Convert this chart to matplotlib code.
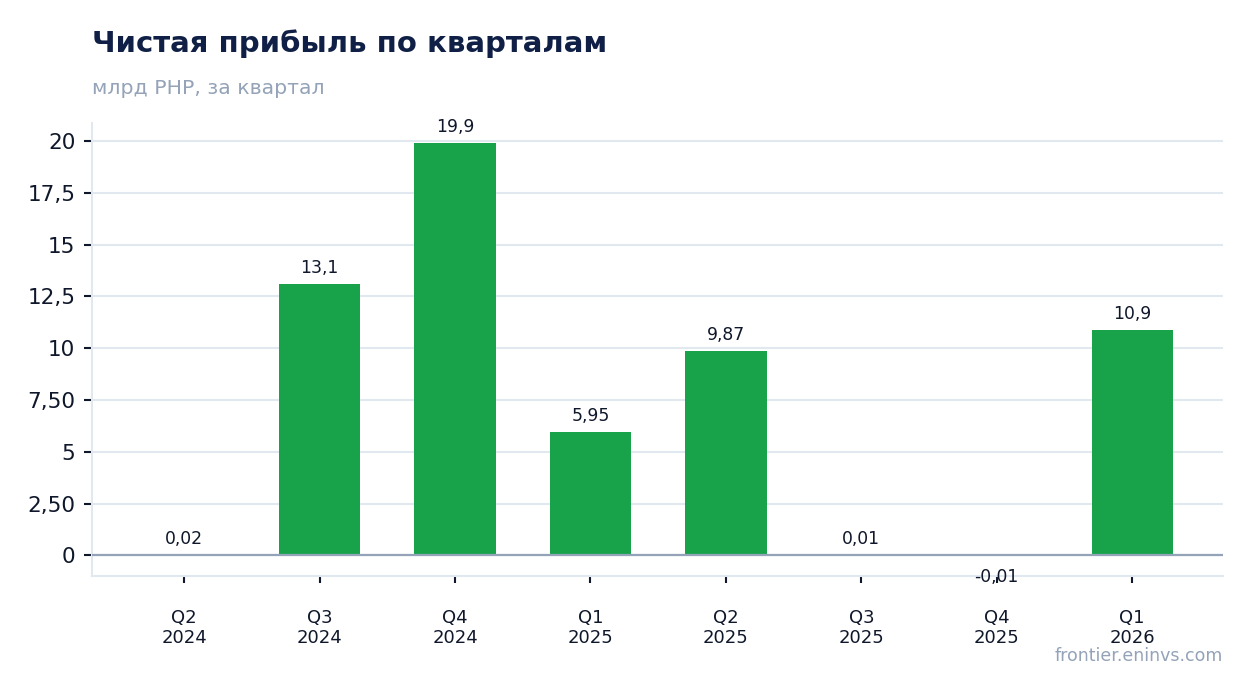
import matplotlib
matplotlib.use("Agg")
import matplotlib.pyplot as plt

categories = ["Q2\n2024", "Q3\n2024", "Q4\n2024", "Q1\n2025", "Q2\n2025", "Q3\n2025", "Q4\n2025", "Q1\n2026"]
values = [0.02, 13.1, 19.9, 5.95, 9.87, 0.01, -0.01, 10.9]
value_labels = ["0,02", "13,1", "19,9", "5,95", "9,87", "0,01", "-0,01", "10,9"]
ytick_values = [0, 2.5, 5, 7.5, 10, 12.5, 15, 17.5, 20]
ytick_labels = ["0", "2,50", "5", "7,50", "10", "12,5", "15", "17,5", "20"]

plt.rcParams['font.family'] = ['DejaVu Sans']
fig = plt.figure(figsize=(12.54, 6.93), dpi=100)
ax = fig.add_axes([92/1254, 1-576/693, (1223-92)/1254, (576-123)/693])

x = list(range(len(categories)))
ax.bar(x, values, width=0.6, color="#18a34a", zorder=3)
ax.axhline(0, color="#94a3b8", lw=1.6, zorder=4)

for xi, v, lab in zip(x, values, value_labels):
    if v >= 0:
        ax.annotate(lab, (xi, v), xytext=(0, 5), textcoords="offset points",
                    ha="center", va="bottom", fontsize=12.4, color="#0f172a", zorder=5)
    else:
        ax.annotate(lab, (xi, v), xytext=(0, -9), textcoords="offset points",
                    ha="center", va="top", fontsize=12.4, color="#0f172a", zorder=5)

ax.set_xlim(-0.68, 7.67)
ax.set_ylim(-1.0, 20.87)
ax.set_yticks(ytick_values)
ax.set_yticklabels(ytick_labels)
ax.set_xticks(x)
ax.set_xticklabels(categories)
ax.tick_params(axis="y", labelsize=15.5, colors="#0f172a", length=6, width=1.5, pad=6)
ax.tick_params(axis="x", labelsize=13, colors="#0f172a", length=5, width=1.5, pad=18.5)
ax.grid(axis="y", color="#e2e8f0", lw=1.5, zorder=0)
ax.set_axisbelow(True)
for s in ["top", "right"]:
    ax.spines[s].set_visible(False)
for s in ["left", "bottom"]:
    ax.spines[s].set_color("#e2e8f0")
    ax.spines[s].set_linewidth(1.5)

fig.text(92/1254, 1-44/693, "Чистая прибыль по кварталам", fontsize=21, fontweight="bold",
         color="#0f1f45", ha="left", va="center")
fig.text(92/1254, 1-88/693, "млрд РНР, за квартал", fontsize=14.7,
         color="#94a3b8", ha="left", va="center")
fig.text(1223/1254, 1-656/693, "frontier.eninvs.com", fontsize=12.5,
         color="#94a3b8", ha="right", va="center")

fig.savefig("out.png", dpi=100)
